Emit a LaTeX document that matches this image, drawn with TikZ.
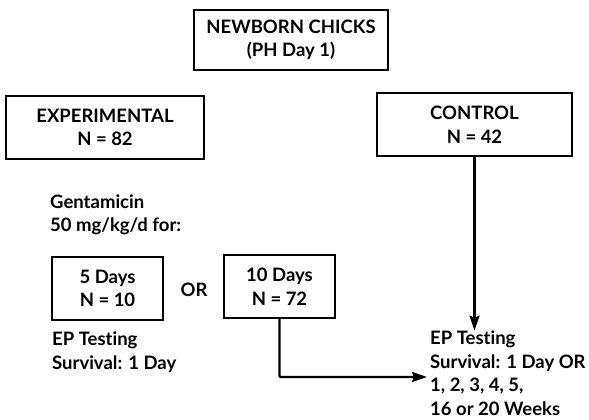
\documentclass[tikz,border=0pt]{standalone}
\usepackage{fontspec}
\setmainfont{Lato}[Ligatures=NoCommon]
\usetikzlibrary{arrows.meta}

\begin{document}
\begin{tikzpicture}[x=1pt, y=-1pt,
    font=\fontsize{18.5}{23.5}\selectfont\bfseries,
    box/.style={draw, line width=1.8pt, align=center, inner sep=0pt},
    txt/.style={align=left, anchor=west, inner sep=0pt},
    arr/.style={-{Stealth[length=15pt, width=10pt, inset=2pt]}, line width=2.4pt}]
    \useasboundingbox (0,0) rectangle (589,420);
    \node [box, minimum width=194pt, minimum height=60pt] (newborn) at (291,40) {NEWBORN CHICKS\\(PH Day 1)};
    \node [box, minimum width=198pt, minimum height=63pt] (exper) at (105,127.5) {EXPERIMENTAL\\N = 82};
    \node [box, minimum width=195pt, minimum height=63pt] (control) at (474.5,124.5) {CONTROL\\N = 42};
    \node [txt] (gent) at (50,215) {Gentamicin\\50 mg/kg/d for:};
    \node [box, minimum width=111pt, minimum height=63pt] (five) at (107.5,288.5) {5 Days\\N = 10};
    \node (or) at (194,290) {OR};
    \node [box, minimum width=111pt, minimum height=63pt] (ten) at (279.5,286.5) {10 Days\\N = 72};
    \node [txt] (leftEP) at (52,352) {EP Testing\\Survival: 1 Day};
    \node [txt] (rightEP) at (430,373) {EP Testing\\Survival: 1 Day OR\\1, 2, 3, 4, 5,\\16 or 20 Weeks};
    \coordinate (in) at (427,377);
    \draw [arr] (control.south) -- (control.south |- rightEP.north);
    \draw [arr, rounded corners=1pt] (ten.south) |- (in);
\end{tikzpicture}
\end{document}
